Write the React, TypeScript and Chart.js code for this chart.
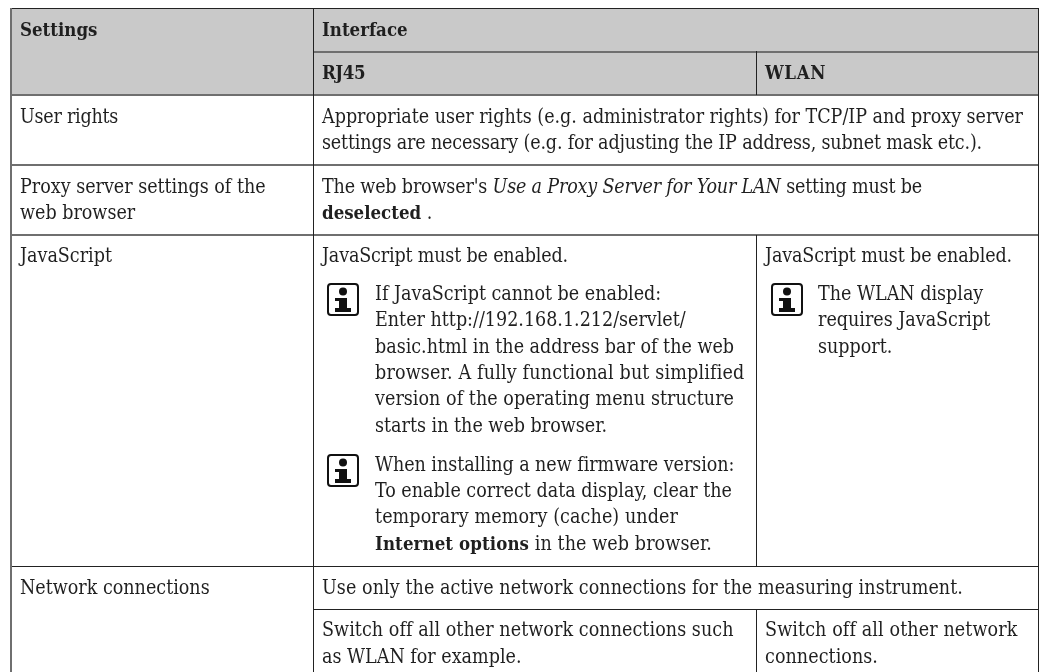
import React, { useEffect, useRef } from "react";
import { Chart, registerables } from "chart.js";

Chart.register(...registerables);

type Run = { t: string; s?: "b" | "i" };

const headerTexts = ["Settings", "Interface", "RJ45", "WLAN"];
const settingsLabels = ["User rights", "Proxy server settings of the", "web browser", "JavaScript", "Network connections"];
const userRightsLines = [
  "Appropriate user rights (e.g. administrator rights) for TCP/IP and proxy server",
  "settings are necessary (e.g. for adjusting the IP address, subnet mask etc.).",
];
const proxyLines: Run[][] = [
  [{ t: "The web browser's " }, { t: "Use a Proxy Server for Your LAN", s: "i" }, { t: " setting must be" }],
  [{ t: "deselected", s: "b" }, { t: " ." }],
];
const jsIntro = "JavaScript must be enabled.";
const jsNoteOne = [
  "If JavaScript cannot be enabled:",
  "Enter http://192.168.1.212/servlet/",
  "basic.html in the address bar of the web",
  "browser. A fully functional but simplified",
  "version of the operating menu structure",
  "starts in the web browser.",
];
const jsNoteTwo: Run[][] = [
  [{ t: "When installing a new firmware version:" }],
  [{ t: "To enable correct data display, clear the" }],
  [{ t: "temporary memory (cache) under" }],
  [{ t: "Internet options", s: "b" }, { t: " in the web browser." }],
];
const wlanNote = ["The WLAN display", "requires JavaScript", "support."];
const networkLine = "Use only the active network connections for the measuring instrument.";
const networkRj45 = ["Switch off all other network connections such", "as WLAN for example."];
const networkWlan = ["Switch off all other network", "connections."];

const FAMILY = '"DejaVu Serif"';
const SIZE = 19.5;
const BOLD_SIZE = 18.5;

function App() {
  const ref = useRef<HTMLCanvasElement | null>(null);
  useEffect(() => {
    const tablePlugin = {
      id: "table",
      afterDraw(chart: any) {
        const { ctx } = chart;
        const X = (v: number) => chart.scales.x.getPixelForValue(v);
        const Y = (v: number) => chart.scales.y.getPixelForValue(v);
        const hline = (x0: number, x1: number, y: number, w: number, c: string) => {
          ctx.fillStyle = c;
          ctx.fillRect(X(x0), Y(y), X(x1) - X(x0), w);
        };
        const vline = (x: number, y0: number, y1: number, w: number, c: string) => {
          ctx.fillStyle = c;
          ctx.fillRect(X(x), Y(y0), w, Y(y1) - Y(y0));
        };
        const setFont = (r: Run) => {
          const pre = r.s === "b" ? "bold " : r.s === "i" ? "italic " : "";
          const size = r.s === "b" ? BOLD_SIZE : SIZE;
          ctx.font = `${pre}${size}px ${FAMILY}`;
          (ctx as any).fontStretch = "condensed";
        };
        const draw = (runs: Run[] | string, x: number, y: number, right?: number) => {
          const rs: Run[] = typeof runs === "string" ? [{ t: runs }] : runs;
          ctx.fillStyle = "#1f1f1f";
          ctx.textBaseline = "alphabetic";
          ctx.textAlign = "left";
          (ctx as any).letterSpacing = "0px";
          let natural = 0;
          let chars = 0;
          rs.forEach((r) => {
            setFont(r);
            natural += ctx.measureText(r.t).width;
            chars += r.t.length;
          });
          const spacing = right === undefined ? 0 : (X(right) - X(x) - natural) / chars;
          (ctx as any).letterSpacing = `${spacing}px`;
          let cx = X(x);
          rs.forEach((r) => {
            setFont(r);
            ctx.fillText(r.t, cx, Y(y));
            cx += ctx.measureText(r.t).width;
          });
          (ctx as any).letterSpacing = "0px";
        };
        const icon = (x: number, y: number) => {
          const l = X(x);
          const t = Y(y);
          ctx.strokeStyle = "#111";
          ctx.lineWidth = 2;
          ctx.beginPath();
          ctx.roundRect(l + 1, t + 1, 30, 31, 3);
          ctx.stroke();
          ctx.fillStyle = "#111";
          ctx.beginPath();
          ctx.arc(l + 16, t + 8.5, 4, 0, Math.PI * 2);
          ctx.fill();
          ctx.fillRect(l + 8, t + 15, 12, 3);
          ctx.fillRect(l + 12, t + 15, 8, 12);
          ctx.fillRect(l + 8, t + 25, 16, 4);
        };

        ctx.save();
        ctx.fillStyle = "#fff";
        ctx.fillRect(0, 0, chart.width, chart.height);
        ctx.fillStyle = "#c9c9c9";
        ctx.fillRect(X(11), Y(9), X(1038) - X(11), Y(95) - Y(9));

        const gray = "#6f6f6f";
        const dark = "#222";
        hline(11, 1039, 8, 1, dark);
        hline(313, 1039, 51, 2, gray);
        [94, 164, 234].forEach((y) => hline(11, 1039, y, 2, gray));
        hline(11, 1039, 566, 1, dark);
        hline(313, 1039, 609, 1, dark);
        vline(10, 8, 672, 2, gray);
        vline(1038, 8, 672, 1, dark);
        vline(313, 8, 672, 1, dark);
        vline(756, 51, 95, 1, dark);
        vline(756, 235, 566, 1, dark);
        vline(756, 609, 672, 1, dark);

        const boldRun = (t: string): Run[] => [{ t, s: "b" }];
        draw(boldRun(headerTexts[0]), 20, 36);
        draw(boldRun(headerTexts[1]), 322, 36);
        draw(boldRun(headerTexts[2]), 322, 79, 365);
        draw(boldRun(headerTexts[3]), 765, 79, 826);

        draw(settingsLabels[0], 20, 123, 118);
        draw(settingsLabels[1], 20, 193);
        draw(settingsLabels[2], 20, 219);
        draw(settingsLabels[3], 20, 262);
        draw(settingsLabels[4], 20, 594);

        userRightsLines.forEach((l, i) => draw(l, 322, [123, 149][i], [1023, 982][i]));
        proxyLines.forEach((l, i) => draw(l, 322, [193, 219][i], [922, undefined][i]));
        draw(jsIntro, 322, 262, 568);
        draw(jsIntro, 765, 262, 1012);
        icon(327, 283);
        jsNoteOne.forEach((l, i) =>
          draw(l, 375, [300, 326, 353, 379, 405, 432][i], [undefined, undefined, 734, 744, 734, 607][i]),
        );
        icon(327, 454);
        jsNoteTwo.forEach((l, i) => draw(l, 375, [471, 497, 523, 550][i], [734, 732, 678, 712][i]));
        icon(771, 283);
        wlanNote.forEach((l, i) => draw(l, 818, [300, 326, 353][i]));
        draw(networkLine, 322, 594, 963);
        networkRj45.forEach((l, i) => draw(l, 322, [636, 663][i], [733, undefined][i]));
        networkWlan.forEach((l, i) => draw(l, 765, [636, 663][i], [1017, 878][i]));
        ctx.restore();
      },
    };
    const chart = new Chart(ref.current as HTMLCanvasElement, {
      type: "scatter",
      data: { datasets: [{ data: [] }] },
      options: {
        animation: false,
        responsive: false,
        layout: { padding: 0 },
        plugins: { legend: { display: false }, tooltip: { enabled: false } },
        scales: {
          x: { type: "linear", min: 0, max: 1045, display: false },
          y: { type: "linear", min: 0, max: 672, reverse: true, display: false },
        },
      },
      plugins: [tablePlugin],
    } as any);
    return () => chart.destroy();
  }, []);
  return (
    <div style={{ position: "fixed", left: 0, top: 0, width: 1045, height: 672, background: "#fff" }}>
      <canvas ref={ref} width={1045} height={672} style={{ display: "block" }} />
    </div>
  );
}

export default App;
